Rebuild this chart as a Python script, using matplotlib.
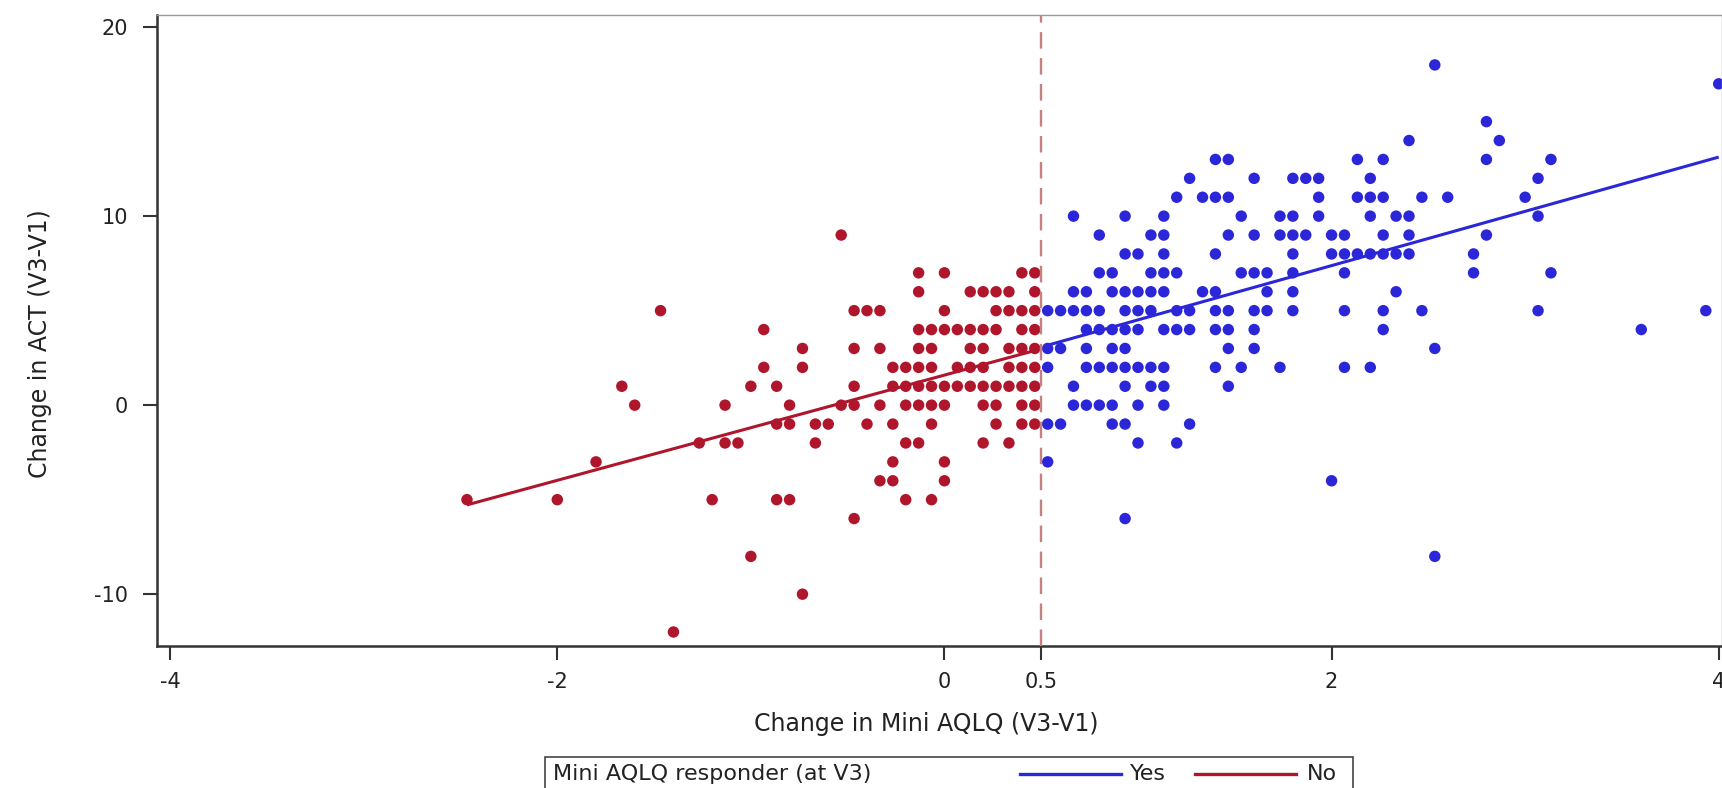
import numpy as np
import matplotlib
matplotlib.use("Agg")
import matplotlib.pyplot as plt
from matplotlib.lines import Line2D
from matplotlib.patches import Rectangle

# ---- data (Mini AQLQ change stored in fifteenths of a point; ACT change in points) ----
red_aqlq15 = [
    -8,
    -2, 0, 6, 7,
    -2, 2, 3, 4, 5, 7,
    -22, -7, -6, -5, 0, 4, 5, 6, 7,
    -14, -2, -1, 0, 1, 2, 3, 4, 6, 7,
    -11, -7, -5, -2, -1, 2, 3, 5, 6, 7,
    -14, -11, -4, -3, -2, -1, 1, 2, 3, 5, 6, 7,
    -25, -15, -13, -7, -4, -3, -2, -1, 0, 1, 2, 3, 4, 5, 6, 7,
    -24, -17, -12, -8, -7, -5, -3, -2, -1, 0, 3, 4, 6, 7,
    -13, -12, -10, -9, -6, -4, -1, 4, 6, 7,
    -19, -17, -16, -10, -3, -2, 3, 5,
    -27, -4, 0,
    -5, -4, 0,
    -37, -30, -18, -13, -12, -3, -1,
    -7,
    -15,
    -11,
    -21,
]
red_act = [
    9,
    7, 7, 7, 7,
    6, 6, 6, 6, 6, 6,
    5, 5, 5, 5, 5, 5, 5, 5, 5,
    4, 4, 4, 4, 4, 4, 4, 4, 4, 4,
    3, 3, 3, 3, 3, 3, 3, 3, 3, 3,
    2, 2, 2, 2, 2, 2, 2, 2, 2, 2, 2, 2,
    1, 1, 1, 1, 1, 1, 1, 1, 1, 1, 1, 1, 1, 1, 1, 1,
    0, 0, 0, 0, 0, 0, 0, 0, 0, 0, 0, 0, 0, 0,
    -1, -1, -1, -1, -1, -1, -1, -1, -1, -1,
    -2, -2, -2, -2, -2, -2, -2, -2,
    -3, -3, -3,
    -4, -4, -4,
    -5, -5, -5, -5, -5, -5, -5,
    -6,
    -8,
    -10,
    -12,
]

blue_aqlq15 = [
    38,
    60,
    42,
    36, 43,
    21, 22, 32, 34, 42, 47,
    19, 24, 27, 28, 29, 33, 46,
    18, 20, 21, 22, 29, 32, 33, 34, 37, 39, 45,
    10, 14, 17, 23, 26, 27, 29, 33, 35, 36, 46,
    12, 16, 17, 22, 24, 26, 27, 28, 30, 31, 34, 36, 42,
    14, 15, 17, 21, 27, 30, 31, 32, 33, 34, 35, 36, 41,
    12, 13, 16, 17, 18, 23, 24, 25, 27, 31, 41, 47,
    10, 11, 13, 14, 15, 16, 17, 20, 21, 25, 27, 35,
    8, 9, 10, 11, 12, 14, 15, 16, 18, 19, 21, 22, 24, 25, 27, 31, 34, 37, 46, 59,
    11, 12, 13, 14, 15, 17, 18, 19, 21, 22, 24, 34, 54,
    8, 9, 11, 13, 14, 22, 24, 38,
    8, 11, 12, 13, 14, 15, 16, 17, 21, 23, 26, 31, 33,
    10, 14, 16, 17, 22,
    10, 11, 12, 13, 15, 17,
    8, 9, 13, 14, 19,
    15, 18,
    8,
    30,
    14,
    38,
]
blue_act = [
    18,
    17,
    15,
    14, 14,
    13, 13, 13, 13, 13, 13,
    12, 12, 12, 12, 12, 12, 12,
    11, 11, 11, 11, 11, 11, 11, 11, 11, 11, 11,
    10, 10, 10, 10, 10, 10, 10, 10, 10, 10, 10,
    9, 9, 9, 9, 9, 9, 9, 9, 9, 9, 9, 9, 9,
    8, 8, 8, 8, 8, 8, 8, 8, 8, 8, 8, 8, 8,
    7, 7, 7, 7, 7, 7, 7, 7, 7, 7, 7, 7,
    6, 6, 6, 6, 6, 6, 6, 6, 6, 6, 6, 6,
    5, 5, 5, 5, 5, 5, 5, 5, 5, 5, 5, 5, 5, 5, 5, 5, 5, 5, 5, 5,
    4, 4, 4, 4, 4, 4, 4, 4, 4, 4, 4, 4, 4,
    3, 3, 3, 3, 3, 3, 3, 3,
    2, 2, 2, 2, 2, 2, 2, 2, 2, 2, 2, 2, 2,
    1, 1, 1, 1, 1,
    0, 0, 0, 0, 0, 0,
    -1, -1, -1, -1, -1,
    -2, -2,
    -3,
    -4,
    -6,
    -8,
]
assert len(red_aqlq15) == len(red_act)
assert len(blue_aqlq15) == len(blue_act)

x_ticks = [-4, -2, 0, 0.5, 2, 4]
x_ticklabels = ["-4", "-2", "0", "0.5", "2", "4"]
y_ticks = [-10, 0, 10, 20]
y_ticklabels = ["-10", "0", "10", "20"]
responder_cut = 0.5

RED = "#b0162b"
BLUE = "#2b27d8"
REF = "#c78080"
TXT = "#222222"

red_x = np.array(red_aqlq15) / 15.0
red_y = np.array(red_act, dtype=float)
blue_x = np.array(blue_aqlq15) / 15.0
blue_y = np.array(blue_act, dtype=float)

plt.rcParams['font.family'] = ['DejaVu Sans']

W, H = 1722, 788
fig = plt.figure(figsize=(W / 100, H / 100), dpi=100)
ax_l, ax_r, ax_t, ax_b = 157, 1722, 15.4, 645.6
ax = fig.add_axes([ax_l / W, 1 - ax_b / H, (ax_r - ax_l) / W, (ax_b - ax_t) / H])

ax.scatter(red_x, red_y, s=68, color=RED, edgecolors='none', zorder=2)
ax.scatter(blue_x, blue_y, s=68, color=BLUE, edgecolors='none', zorder=2)

for gx, gy, col in ((red_x, red_y, RED), (blue_x, blue_y, BLUE)):
    b1, b0 = np.polyfit(gx, gy, 1)
    xs = np.array([gx.min(), gx.max()])
    ax.plot(xs, b0 + b1 * xs, color=col, lw=2.2, zorder=4, solid_capstyle='butt')

ax.axvline(responder_cut, color=REF, lw=1.7, dashes=(7, 4), zorder=3)

ax.set_xlim(-4.068, 4.017)
ax.set_ylim(-12.72, 20.62)
ax.set_xticks(x_ticks)
ax.set_xticklabels(x_ticklabels)
ax.set_yticks(y_ticks)
ax.set_yticklabels(y_ticklabels)
ax.tick_params(axis='both', direction='out', length=10, width=1.5, colors='#333333',
               labelcolor=TXT, labelsize=15)
ax.tick_params(axis='x', pad=9)
ax.tick_params(axis='y', pad=11)

for s in ('left', 'bottom'):
    ax.spines[s].set_color('#333333')
    ax.spines[s].set_linewidth(1.8)
for s in ('top', 'right'):
    ax.spines[s].set_color('#9a9a9a')
    ax.spines[s].set_linewidth(1.0)

fig.text(926 / W, 1 - 724 / H, "Change in Mini AQLQ (V3-V1)", ha='center', va='center',
         fontsize=17, color=TXT)
fig.text(40 / W, 1 - 344 / H, "Change in ACT (V3-V1)", ha='center', va='center',
         rotation=90, fontsize=17, color=TXT)

# legend box (clipped at figure bottom, as in the reference)
leg_top = 1 - 757 / H
fig.patches.append(Rectangle((545 / W, -0.02), (1353 - 545) / W, leg_top + 0.02,
                             transform=fig.transFigure, facecolor='white',
                             edgecolor='#444444', lw=1.2))
ly = 1 - 774 / H
fig.text(553 / W, ly, "Mini AQLQ responder (at V3)", ha='left', va='center',
         fontsize=16, color=TXT)
fig.lines.append(Line2D([1020 / W, 1121 / W], [ly, ly], transform=fig.transFigure,
                        color=BLUE, lw=2.4))
fig.text(1130 / W, ly, "Yes", ha='left', va='center', fontsize=16, color=TXT)
fig.lines.append(Line2D([1195 / W, 1296 / W], [ly, ly], transform=fig.transFigure,
                        color=RED, lw=2.4))
fig.text(1307 / W, ly, "No", ha='left', va='center', fontsize=16, color=TXT)

fig.savefig("out.png", dpi=100)
